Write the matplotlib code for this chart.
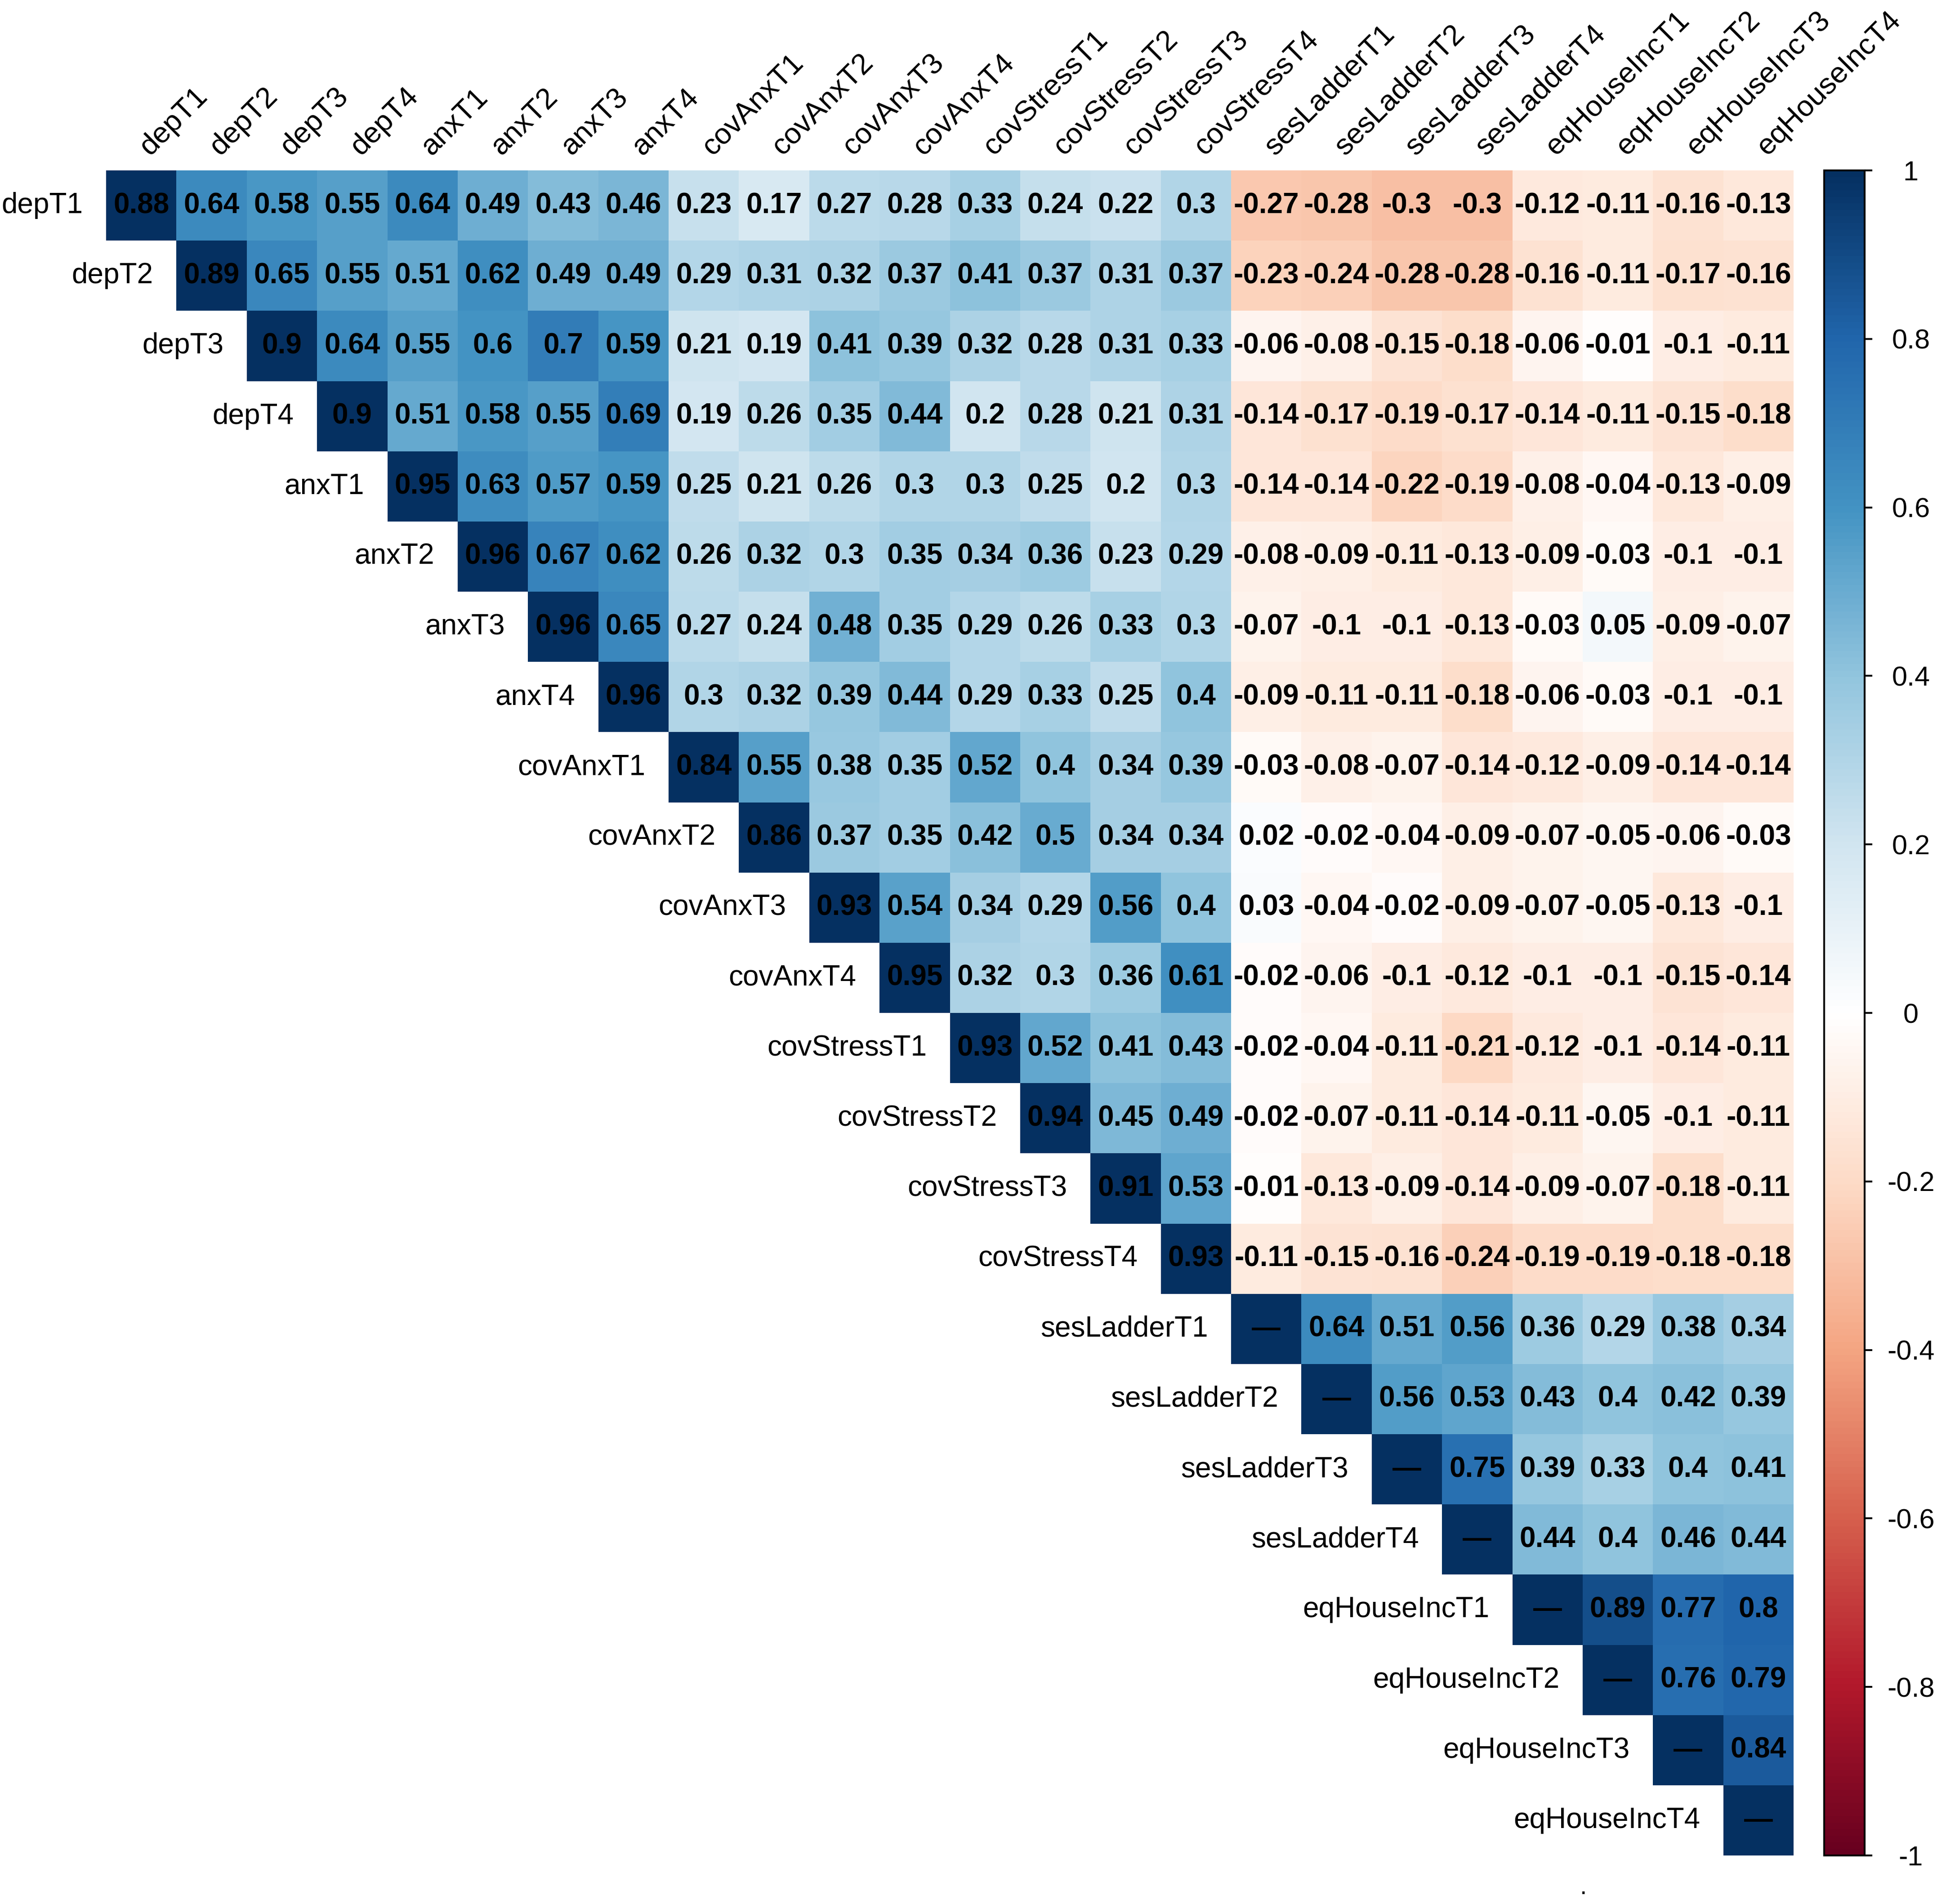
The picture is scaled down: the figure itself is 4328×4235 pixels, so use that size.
import numpy as np
import matplotlib.pyplot as plt
from matplotlib.colors import LinearSegmentedColormap, Normalize
from matplotlib.cm import ScalarMappable

plt.rcParams['font.family'] = ['Liberation Sans', 'DejaVu Sans']

# variable names (rows and columns)
variables = ['depT1', 'depT2', 'depT3', 'depT4',
             'anxT1', 'anxT2', 'anxT3', 'anxT4',
             'covAnxT1', 'covAnxT2', 'covAnxT3', 'covAnxT4',
             'covStressT1', 'covStressT2', 'covStressT3', 'covStressT4',
             'sesLadderT1', 'sesLadderT2', 'sesLadderT3', 'sesLadderT4',
             'eqHouseIncT1', 'eqHouseIncT2', 'eqHouseIncT3', 'eqHouseIncT4']

# diagonal text (reliability), None -> dash
diag_vals = [0.88, 0.89, 0.9, 0.9, 0.95, 0.96, 0.96, 0.96,
             0.84, 0.86, 0.93, 0.95, 0.93, 0.94, 0.91, 0.93,
             None, None, None, None, None, None, None, None]

# correlations right of the diagonal, one list per row
row_depT1 = [0.64, 0.58, 0.55, 0.64, 0.49, 0.43, 0.46, 0.23, 0.17, 0.27, 0.28, 0.33, 0.24, 0.22, 0.3,
             -0.27, -0.28, -0.3, -0.3, -0.12, -0.11, -0.16, -0.13]
row_depT2 = [0.65, 0.55, 0.51, 0.62, 0.49, 0.49, 0.29, 0.31, 0.32, 0.37, 0.41, 0.37, 0.31, 0.37,
             -0.23, -0.24, -0.28, -0.28, -0.16, -0.11, -0.17, -0.16]
row_depT3 = [0.64, 0.55, 0.6, 0.7, 0.59, 0.21, 0.19, 0.41, 0.39, 0.32, 0.28, 0.31, 0.33,
             -0.06, -0.08, -0.15, -0.18, -0.06, -0.01, -0.1, -0.11]
row_depT4 = [0.51, 0.58, 0.55, 0.69, 0.19, 0.26, 0.35, 0.44, 0.2, 0.28, 0.21, 0.31,
             -0.14, -0.17, -0.19, -0.17, -0.14, -0.11, -0.15, -0.18]
row_anxT1 = [0.63, 0.57, 0.59, 0.25, 0.21, 0.26, 0.3, 0.3, 0.25, 0.2, 0.3,
             -0.14, -0.14, -0.22, -0.19, -0.08, -0.04, -0.13, -0.09]
row_anxT2 = [0.67, 0.62, 0.26, 0.32, 0.3, 0.35, 0.34, 0.36, 0.23, 0.29,
             -0.08, -0.09, -0.11, -0.13, -0.09, -0.03, -0.1, -0.1]
row_anxT3 = [0.65, 0.27, 0.24, 0.48, 0.35, 0.29, 0.26, 0.33, 0.3,
             -0.07, -0.1, -0.1, -0.13, -0.03, 0.05, -0.09, -0.07]
row_anxT4 = [0.3, 0.32, 0.39, 0.44, 0.29, 0.33, 0.25, 0.4,
             -0.09, -0.11, -0.11, -0.18, -0.06, -0.03, -0.1, -0.1]
row_covAnxT1 = [0.55, 0.38, 0.35, 0.52, 0.4, 0.34, 0.39,
                -0.03, -0.08, -0.07, -0.14, -0.12, -0.09, -0.14, -0.14]
row_covAnxT2 = [0.37, 0.35, 0.42, 0.5, 0.34, 0.34,
                0.02, -0.02, -0.04, -0.09, -0.07, -0.05, -0.06, -0.03]
row_covAnxT3 = [0.54, 0.34, 0.29, 0.56, 0.4,
                0.03, -0.04, -0.02, -0.09, -0.07, -0.05, -0.13, -0.1]
row_covAnxT4 = [0.32, 0.3, 0.36, 0.61,
                -0.02, -0.06, -0.1, -0.12, -0.1, -0.1, -0.15, -0.14]
row_covStressT1 = [0.52, 0.41, 0.43, -0.02, -0.04, -0.11, -0.21, -0.12, -0.1, -0.14, -0.11]
row_covStressT2 = [0.45, 0.49, -0.02, -0.07, -0.11, -0.14, -0.11, -0.05, -0.1, -0.11]
row_covStressT3 = [0.53, -0.01, -0.13, -0.09, -0.14, -0.09, -0.07, -0.18, -0.11]
row_covStressT4 = [-0.11, -0.15, -0.16, -0.24, -0.19, -0.19, -0.18, -0.18]
row_sesLadderT1 = [0.64, 0.51, 0.56, 0.36, 0.29, 0.38, 0.34]
row_sesLadderT2 = [0.56, 0.53, 0.43, 0.4, 0.42, 0.39]
row_sesLadderT3 = [0.75, 0.39, 0.33, 0.4, 0.41]
row_sesLadderT4 = [0.44, 0.4, 0.46, 0.44]
row_eqHouseIncT1 = [0.89, 0.77, 0.8]
row_eqHouseIncT2 = [0.76, 0.79]
row_eqHouseIncT3 = [0.84]
row_eqHouseIncT4 = []

rows = [row_depT1, row_depT2, row_depT3, row_depT4,
        row_anxT1, row_anxT2, row_anxT3, row_anxT4,
        row_covAnxT1, row_covAnxT2, row_covAnxT3, row_covAnxT4,
        row_covStressT1, row_covStressT2, row_covStressT3, row_covStressT4,
        row_sesLadderT1, row_sesLadderT2, row_sesLadderT3, row_sesLadderT4,
        row_eqHouseIncT1, row_eqHouseIncT2, row_eqHouseIncT3, row_eqHouseIncT4]

n = len(variables)
mat = np.full((n, n), np.nan)
for i in range(n):
    mat[i, i] = 1.0
    mat[i, i + 1:] = rows[i]

# corrplot style RdBu palette
cmap = LinearSegmentedColormap.from_list('corrRdBu', [
    '#67001F', '#B2182B', '#D6604D', '#F4A582', '#FDDBC7', '#FFFFFF',
    '#D1E5F0', '#92C5DE', '#4393C3', '#2166AC', '#053061'])
cmap.set_bad((1, 1, 1, 0))

W, H = 4328, 4235
fig = plt.figure(figsize=(W / 100, H / 100), dpi=100)

gx0, gx1, gy0, gy1 = 236, 3989, 379, 4127
ax = fig.add_axes([gx0 / W, 1 - gy1 / H, (gx1 - gx0) / W, (gy1 - gy0) / H])
ax.pcolormesh(np.arange(n + 1), np.arange(n + 1), np.ma.masked_invalid(mat),
              cmap=cmap, vmin=-1, vmax=1)
ax.set_xlim(0, n)
ax.set_ylim(n, 0)
ax.axis('off')

# numbers in the cells
for i in range(n):
    for j in range(i, n):
        if j == i:
            txt = '\u2014' if diag_vals[i] is None else f'{diag_vals[i]:g}'
        else:
            txt = f'{mat[i, j]:g}'
        ax.text(j + 0.5, i + 0.5, txt, ha='center', va='center',
                fontsize=46, fontweight='bold', color='black')

# row labels next to the diagonal
for i, name in enumerate(variables):
    ax.text(i - 0.33, i + 0.5, name, ha='right', va='center', fontsize=46)

# column labels on top
for j, name in enumerate(variables):
    ax.text(j + 0.62, -0.2, name, ha='left', va='baseline', rotation=45,
            rotation_mode='anchor', fontsize=47)

# colour legend
cax = fig.add_axes([4057 / W, 1 - gy1 / H, 90 / W, (gy1 - gy0) / H])
sm = ScalarMappable(norm=Normalize(-1, 1), cmap=cmap)
cb = fig.colorbar(sm, cax=cax)
ticks = np.round(np.linspace(-1, 1, 11), 1)
cb.set_ticks(ticks)
cb.set_ticklabels([f'{t:g}' for t in ticks])
cb.outline.set_linewidth(3)
cb.outline.set_edgecolor('black')
cax.tick_params(length=12, width=3, pad=62, labelsize=44, direction='out')
for lbl in cax.get_yticklabels():
    lbl.set_horizontalalignment('center')

# small stray dot below the plot
fig.text(3522 / W, 1 - 4213 / H, '.', ha='center', va='baseline', fontsize=40)

fig.savefig('out.png', dpi=100)
